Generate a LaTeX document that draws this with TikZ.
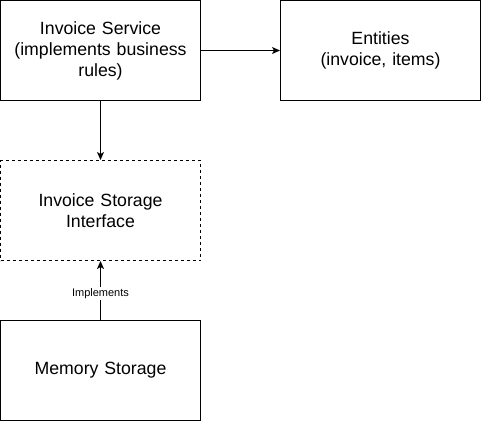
\documentclass[tikz,border=0pt]{standalone}
\usepackage{fontspec}
\setmainfont{Liberation Sans}
\usetikzlibrary{arrows.meta}
\begin{document}
\begin{tikzpicture}[x=1pt,y=-1pt,
  box/.style={draw=black, line width=1pt, minimum width=200pt, minimum height=100pt, inner sep=0pt, align=center, font=\fontsize{17.7}{21}\selectfont, text width=196pt},
  dbox/.style={box, dash pattern=on 3pt off 3pt},
  conn/.style={draw=black, line width=1pt, -{Stealth[length=8pt,width=7pt,inset=2pt]}},
  lbl/.style={fill=white, font=\fontsize{11}{13}\selectfont, inner sep=1pt}]
\useasboundingbox (0,0) rectangle (481,421);
\node[box] (svc) at (100.5,50.5) {Invoice Service\\(implements business\\rules)};
\node[box] (ent) at (380.5,50.5) {Entities\\(invoice, items)};
\node[dbox] (intf) at (100.5,210.5) {Invoice Storage\\Interface};
\node[box] (mem) at (100.5,370.5) {Memory Storage};
\draw[conn] (svc.east) -- (ent.west);
\draw[conn] (svc.south) -- (intf.north);
\draw[conn] (mem.north) -- node[lbl, pos=0.45] {Implements} (intf.south);
\end{tikzpicture}
\end{document}
